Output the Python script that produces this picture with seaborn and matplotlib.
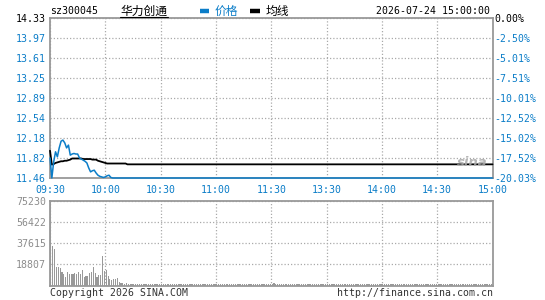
import matplotlib
matplotlib.use("Agg")
import matplotlib.pyplot as plt
from matplotlib.lines import Line2D
import seaborn as sns
import pandas as pd

# ---------------- data ----------------
price_head = [11.82, 11.46, 11.75, 11.93, 11.84, 12.00, 12.12, 12.14, 12.09, 12.00,
              12.05, 11.87, 11.89, 11.90, 11.89, 11.89, 11.82, 11.80, 11.78, 11.76,
              11.73, 11.64, 11.57, 11.59, 11.60, 11.55, 11.51, 11.49, 11.48, 11.47,
              11.48, 11.50, 11.51, 11.47, 11.46]
price_tail_value = 11.46

avg_head = [11.95, 11.70, 11.71, 11.73, 11.74, 11.75, 11.76, 11.76, 11.77, 11.77,
            11.78, 11.79, 11.81, 11.81, 11.81, 11.81, 11.81, 11.81, 11.80, 11.80,
            11.80, 11.80, 11.80, 11.79, 11.79, 11.79, 11.77, 11.76, 11.75, 11.74,
            11.73, 11.72, 11.72, 11.72, 11.72, 11.72, 11.72, 11.72, 11.72, 11.72,
            11.72, 11.72]
avg_tail_value = 11.705

volume_head = [75230, 35000, 32600, 16500, 16500, 15300, 11700, 10000, 7800, 12300,
               10500, 9800, 10500, 11200, 9800, 12300, 10500, 13800, 7200, 8500,
               8500, 11200, 12300, 16500, 11200, 7200, 9500, 9500, 26200, 13000,
               13800, 8500, 5500, 4500, 5800, 6200, 7000, 3000, 2500, 1800,
               1200, 2500]
volume_mid = [1100] * 79 + [2500]
volume_end_value = 1100

N = 241  # 09:30 .. 11:30 / 13:00 .. 15:00
price = price_head + [price_tail_value] * (N - len(price_head))
avg = avg_head + [avg_tail_value] * (N - len(avg_head))
volume = volume_head + volume_mid
volume = volume + [volume_end_value] * (N - len(volume))
minutes = list(range(N))

price_ticks = [14.33, 13.97, 13.61, 13.25, 12.89, 12.54, 12.18, 11.82, 11.46]
price_labels = ["14.33", "13.97", "13.61", "13.25", "12.89", "12.54", "12.18", "11.82", "11.46"]
pct_labels = ["0.00%", "-2.50%", "-5.01%", "-7.51%", "-10.01%", "-12.52%", "-15.02%", "-17.52%", "-20.03%"]
vol_ticks = [18807, 37615, 56422, 75230]
vol_labels = ["18807", "37615", "56422", "75230"]
time_ticks = [0, 30, 60, 90, 120, 150, 180, 210, 240]
time_labels = ["09:30", "10:00", "10:30", "11:00", "11:30", "13:30", "14:00", "14:30", "15:00"]

df = pd.DataFrame({"m": minutes, "price": price, "avg": avg, "vol": volume})
# each volume bar covers the minute interval [m, m+1]; draw it at the interval middle
df["vm"] = df["m"] + 0.5

# ---------------- style ----------------
BLUE = "#0b7dc8"
GRID = "#aaaaaa"
SPINE = "#999999"
sns.set_theme(style="white")
plt.rcParams["font.family"] = ["DejaVu Sans Mono", "Noto Sans CJK SC"]
FS = 7.1

W, H = 545, 300
fig = plt.figure(figsize=(W / 100, H / 100), dpi=100)
fig.patch.set_facecolor("white")


def box(l, t, r, b):
    return [l / W, 1 - b / H, (r - l) / W, (b - t) / H]


ax = fig.add_axes(box(50, 18, 492.5, 178))
axv = fig.add_axes(box(50, 201, 492.5, 285.5))

for a in (ax, axv):
    a.set_facecolor("white")
    for s in a.spines.values():
        s.set_color(SPINE)
        s.set_linewidth(1.3)
    a.set_axisbelow(True)
    a.grid(True, color=GRID, linestyle=(0, (1, 1.6)), linewidth=0.9)
    a.set_xlim(0, 240)
    a.set_xticks(time_ticks)

# price chart
sns.lineplot(data=df, x="m", y="avg", ax=ax, color="black", linewidth=1.3, clip_on=False, zorder=3)
sns.lineplot(data=df, x="m", y="price", ax=ax, color=BLUE, linewidth=1.1, clip_on=False, zorder=4)
ax.set_ylim(price_ticks[-1], price_ticks[0])
ax.set_yticks(price_ticks)
ax.set_yticklabels(price_labels)
ax.set_xticklabels(time_labels)
ax.set_xlabel("")
ax.set_ylabel("")
ax.tick_params(axis="y", length=0, pad=3, labelsize=FS)
ax.tick_params(axis="x", length=0, pad=5, labelsize=FS, labelcolor=BLUE)
for i, lbl in enumerate(ax.get_yticklabels()):
    lbl.set_color("black" if i == 0 else BLUE)

tw = ax.twinx()
tw.set_ylim(price_ticks[-1], price_ticks[0])
tw.set_yticks(price_ticks)
tw.set_yticklabels(pct_labels)
tw.tick_params(axis="y", length=0, pad=1.5, labelsize=FS)
for s in tw.spines.values():
    s.set_visible(False)
for i, lbl in enumerate(tw.get_yticklabels()):
    lbl.set_color("black" if i == 0 else BLUE)

# watermark
ax.text(0.955, 0.10, "sina", transform=ax.transAxes, ha="center", va="center",
        fontsize=9.5, color="#a8a8a8", fontstyle="italic", fontweight="bold",
        family="DejaVu Sans", alpha=0.85)

# volume chart
sns.barplot(data=df, x="vm", y="vol", ax=axv, native_scale=True, color="#999999",
            width=0.6, errorbar=None, saturation=1, linewidth=0,
            antialiased=False, zorder=3)
axv.set_xlim(0, 240)
axv.set_ylim(0, 75230)
axv.set_yticks(vol_ticks)
axv.set_yticklabels(vol_labels)
axv.set_xticks(time_ticks)
axv.set_xticklabels([])
axv.set_xlabel("")
axv.set_ylabel("")
axv.tick_params(axis="y", length=0, pad=3, labelsize=FS, labelcolor="#8c8c8c")
axv.tick_params(axis="x", length=0)


# header texts
def fx(x):
    return x / W


def fy(y):
    return 1 - y / H


CJK = ["Noto Sans CJK SC", "DejaVu Sans"]
fig.text(fx(50), fy(11), "sz300045", ha="left", va="center", fontsize=FS, color="black")
fig.text(fx(144), fy(11), "华力创通", ha="center", va="center", fontsize=8.5,
         color="black", family=CJK)
fig.add_artist(Line2D([fx(120), fx(168)], [fy(16.5), fy(16.5)], color="black", linewidth=0.8))
fig.add_artist(Line2D([fx(200), fx(209)], [fy(10.5), fy(10.5)], color=BLUE, linewidth=3.2,
                      solid_capstyle="butt"))
fig.text(fx(215), fy(11), "价格", ha="left", va="center", fontsize=8.5, color=BLUE, family=CJK)
fig.add_artist(Line2D([fx(250), fx(260)], [fy(10.5), fy(10.5)], color="black", linewidth=3.2,
                      solid_capstyle="butt"))
fig.text(fx(265.5), fy(11), "均线", ha="left", va="center", fontsize=8.5, color="black", family=CJK)
fig.text(fx(490.5), fy(11), "2026-07-24 15:00:00", ha="right", va="center", fontsize=FS,
         color="black")

# footer texts
fig.text(fx(50), fy(293), "Copyright 2026 SINA.COM", ha="left", va="center", fontsize=FS,
         color="#333333")
fig.text(fx(493), fy(293), "http://finance.sina.com.cn", ha="right", va="center", fontsize=FS,
         color="#333333")

fig.savefig("out.png", dpi=100, facecolor="white")
